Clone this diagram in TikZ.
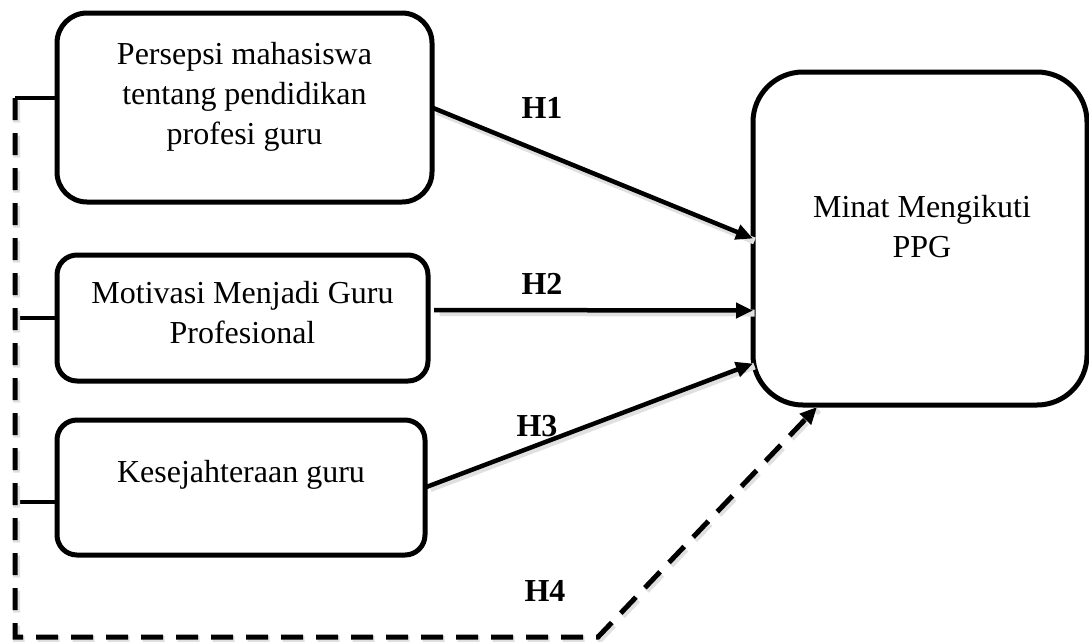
\documentclass[tikz,border=0pt]{standalone}
\usepackage{fontspec}
\setmainfont{Liberation Serif}
\usetikzlibrary{arrows.meta}
\begin{document}
\begin{tikzpicture}[x=1pt,y=-1pt,
  box/.style={draw, line width=5pt, inner sep=0pt, outer sep=0pt},
  lbl/.style={font=\fontsize{32}{40}\selectfont, align=center, inner sep=0pt},
  hyp/.style={font=\fontsize{32}{40}\selectfont\bfseries, inner sep=0pt},
  shade/.style={preaction={draw=black!12, line width=7pt, -, shorten <=4pt, transform canvas={shift={(1.5pt,-2.5pt)}}}},
  conn/.style={line width=4.5pt, shade, -{Triangle[length=17pt,width=15pt]}},
  dconn/.style={line width=5pt, dash pattern=on 22pt off 13pt, -{Triangle[length=17pt,width=15pt]},
    preaction={draw=black!12, line width=7pt, dash pattern=on 22pt off 13pt, -, transform canvas={shift={(1.5pt,-2.5pt)}}}},
  stub/.style={line width=4.5pt}]
\useasboundingbox (0,0) rectangle (1089,641);
\node[box, rounded corners=30pt, minimum width=375pt, minimum height=189pt] (b1) at (244.5,107.5) {};
\node[lbl] (t1) at (244.5,97) {Persepsi mahasiswa\\tentang pendidikan\\profesi guru};
\node[box, rounded corners=20pt, minimum width=371pt, minimum height=126pt] (b2) at (242.5,318) {};
\node[lbl] (t2) at (242.5,313) {Motivasi Menjadi Guru\\Profesional};
\node[box, rounded corners=20pt, minimum width=368pt, minimum height=135pt] (b3) at (241,487.5) {};
\node[lbl] (t3) at (241,475) {Kesejahteraan guru};
\node[box, rounded corners=50pt, minimum width=334pt, minimum height=333pt] (b4) at (920,238.5) {};
\node[lbl] (t4) at (922,227) {Minat Mengikuti\\PPG};
% solid connectors
\draw[conn] (b1.east) -- (b4.west);
\coordinate (h2s) at ([xshift=6pt,yshift=8pt]b2.east);
\coordinate (h2e) at ([yshift=-72pt]b4.west);
\draw[conn] (h2s) -- (h2e);
\coordinate (h3e) at ([yshift=-125pt]b4.west);
\draw[conn] (b3.east) -- (h3e);
% dashed moderator path
\coordinate (s1) at ([yshift=9.5pt]b1.west);
\coordinate (c1) at (15,98);
\coordinate (c2) at (15,637);
\coordinate (c3) at (598,637);
\coordinate (h4e) at ([xshift=64pt,yshift=-2pt]b4.south west);
\draw[stub] (s1) -- (c1);
\draw[stub] (b2.west) -- (b2.west -| c1);
\coordinate (s3) at ([yshift=-14.5pt]b3.west);
\draw[stub] (s3) -- (s3 -| c1);
\draw[dconn] (c1) -- (c2) -- (c3) -- (h4e);
% labels
\node[hyp] (h1) at (542,108) {H1};
\node[hyp] (h2) at (542,284) {H2};
\node[hyp] (h3) at (537,426) {H3};
\node[hyp] (h4) at (545,591) {H4};
\end{tikzpicture}
\end{document}
